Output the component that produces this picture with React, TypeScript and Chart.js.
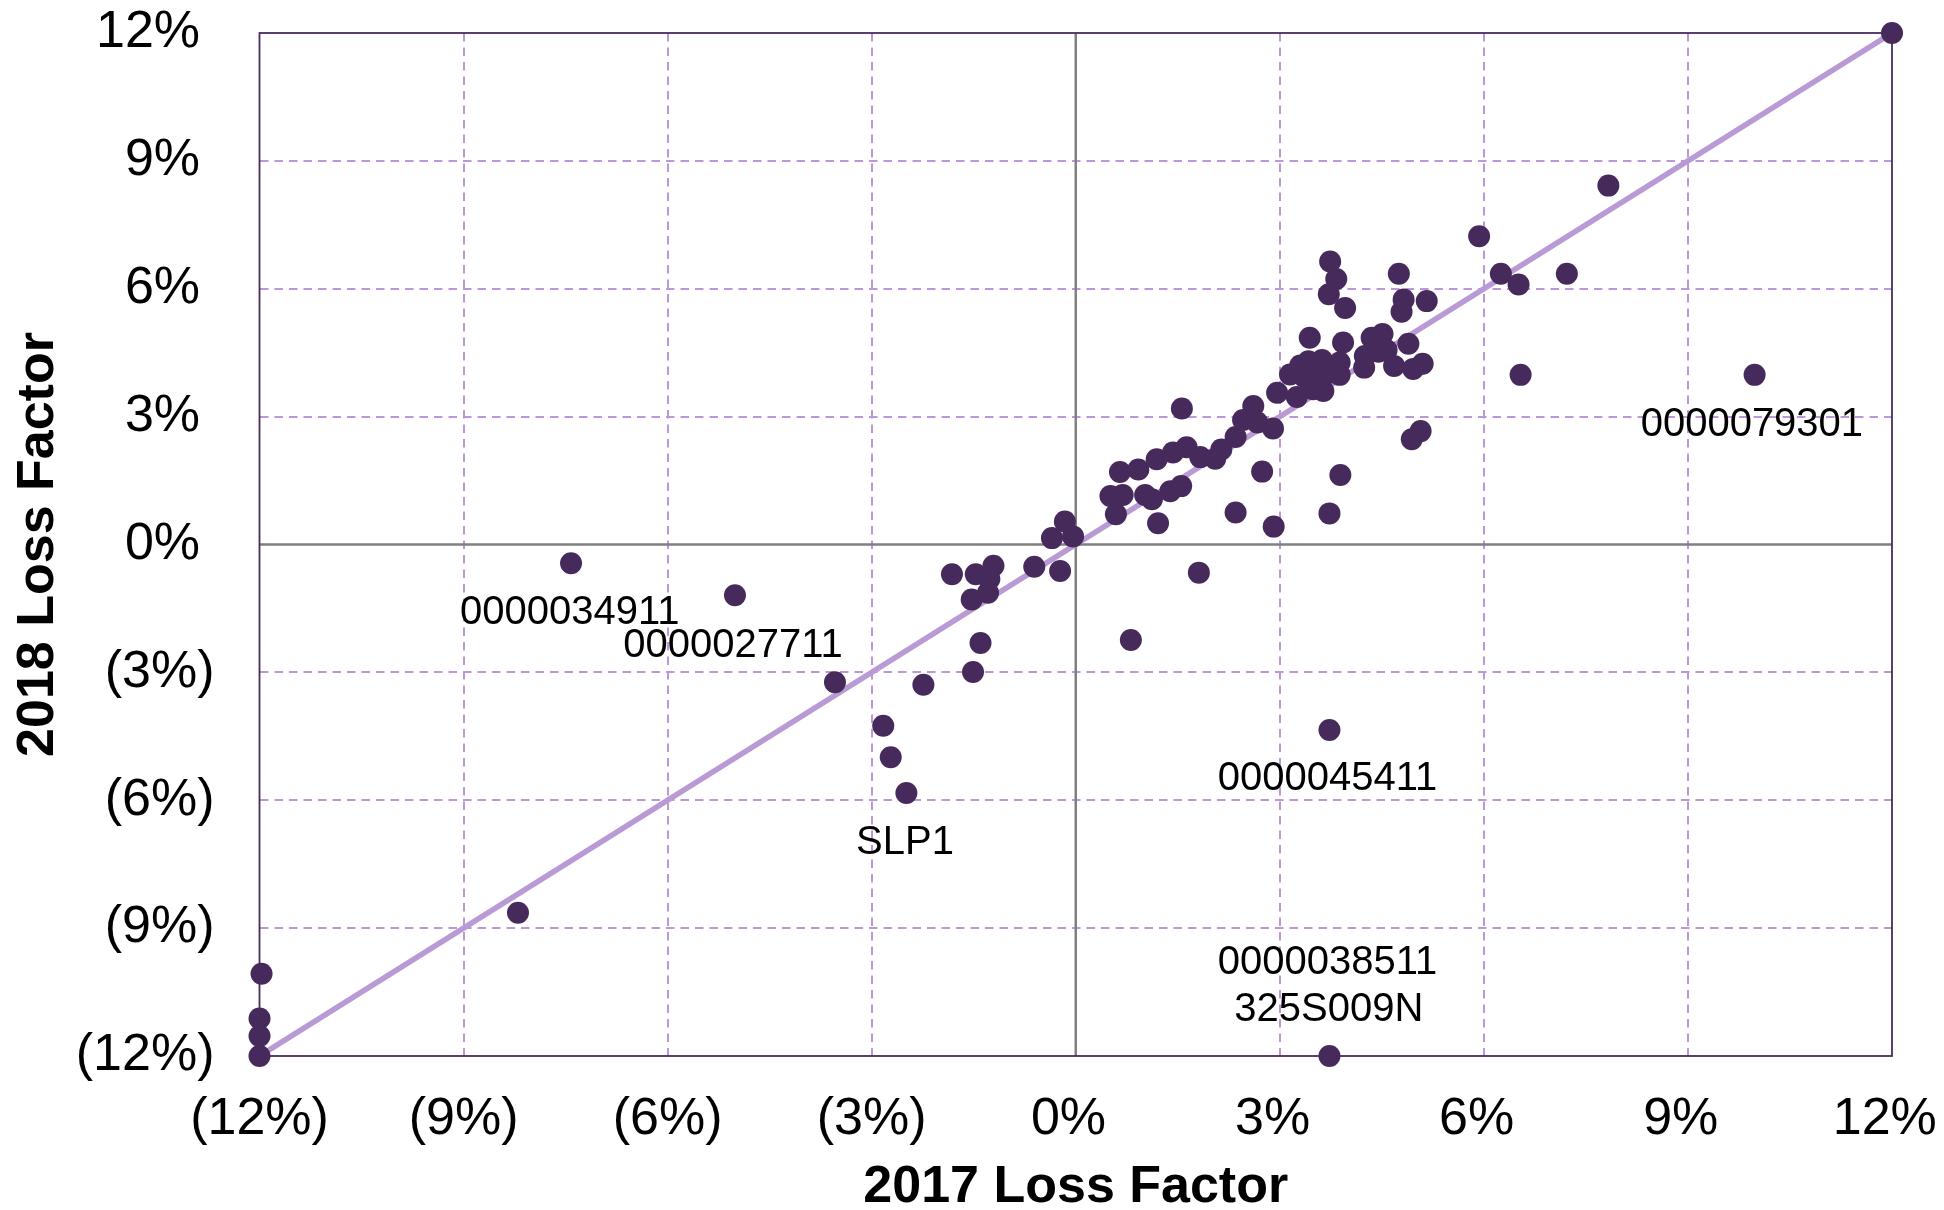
import React, { useEffect, useRef } from "react";
import { Chart, registerables } from "chart.js";

Chart.register(...registerables);

// 2017 loss factor (%) for each node
const lossFactor2017 = [
  -12.0, -12.0, -12.0, -11.97, -8.2, -7.42, -5.01, -3.54, -2.83, -2.72,
  -2.49, -2.24, -1.51, -1.4, -1.82, -1.47, -1.21, -1.27, -1.29, -1.53,
  -0.61, -0.23, -0.16, -0.35, -0.04, 0.59, 0.51, 0.69, 0.65, 0.92,
  0.81, 1.02, 1.12, 1.21, 1.39, 1.55, 1.19, 1.43, 1.63, 1.83,
  2.05, 2.14, 2.35, 1.56, 1.81, 2.35, 2.91, 2.74, 2.46, 2.61,
  2.67, 2.9, 2.96, 3.25, 3.15, 3.3, 3.42, 3.62, 3.88, 3.36,
  3.54, 3.7, 3.88, 3.49, 3.64, 3.8, 3.5, 3.44, 3.93, 3.74,
  3.83, 3.72, 3.96, 3.89, 3.73, 3.73, 3.73, 4.25, 4.24, 4.35,
  4.45, 4.51, 4.57, 4.68, 4.75, 4.82, 4.79, 4.89, 4.96, 5.1,
  5.16, 4.94, 5.07, 5.93, 6.25, 6.51, 7.22, 6.54, 7.83, 9.98,
  12.0,
];

// 2018 loss factor (%) for each node
const lossFactor2018 = [
  -12.0, -11.53, -11.12, -10.07, -8.64, -0.44, -1.19, -3.23, -4.25, -4.99,
  -5.83, -3.29, -2.99, -2.31, -0.7, -0.7, -0.5, -0.81, -1.13, -1.29,
  -0.52, -0.62, 0.54, 0.15, 0.19, 0.71, 1.14, 1.16, 1.7, 1.76,
  -2.24, 1.16, 1.06, 0.5, 1.25, 1.37, 2.0, 2.16, 2.28, 2.05,
  2.01, 2.23, 2.52, 3.19, -0.66, 0.75, 0.42, 1.71, 2.92, 3.25,
  2.86, 2.72, 3.56, 3.46, 3.99, 4.2, 4.3, 4.33, 4.27, 3.93,
  3.88, 4.02, 3.98, 3.64, 3.6, 4.12, 4.12, 4.85, 4.74, 6.64,
  6.23, 5.87, 5.55, 1.63, 0.73, -4.35, -12.0, 4.42, 4.15, 4.85,
  4.52, 4.94, 4.56, 4.19, 6.35, 5.75, 5.46, 4.71, 4.12, 4.24,
  5.71, 2.47, 2.66, 7.23, 6.35, 6.1, 6.35, 3.98, 8.42, 3.98,
  12.0,
];

// equality reference line
const diagonalX = [-12, 12];
const diagonalY = [-12, 12];

// axis ticks (%)
const tickValues = [-12, -9, -6, -3, 0, 3, 6, 9, 12];

// outlier annotations (text anchored in data units)
const annotationTexts = [
  "0000034911",
  "0000027711",
  "SLP1",
  "0000045411",
  "0000038511",
  "325S009N",
  "0000079301",
];
const annotationX = [-7.44, -5.04, -2.51, 3.7, 3.7, 3.72, 9.94];
const annotationY = [-1.6, -2.37, -7.0, -5.5, -9.82, -10.92, 2.8];

const FONT = '"Liberation Sans", Arial, Helvetica, sans-serif';
const DOT = "rgb(70,42,92)";
const GRID = "rgb(188,152,218)";
const DIAG = "rgb(186,154,212)";
const FRAME = "rgb(72,44,96)";
const ZERO = "rgb(128,128,128)";

const fmt = (v: number) => (v < 0 ? `(${Math.abs(v)}%)` : `${v}% `);

const framePlugin = {
  id: "frameAndZero",
  beforeDatasetsDraw(chart: any) {
    const { ctx, chartArea, scales } = chart;
    const x0 = scales.x.getPixelForValue(0);
    const y0 = scales.y.getPixelForValue(0);
    ctx.save();
    ctx.strokeStyle = ZERO;
    ctx.lineWidth = 2.5;
    ctx.beginPath();
    ctx.moveTo(x0, chartArea.top);
    ctx.lineTo(x0, chartArea.bottom);
    ctx.moveTo(chartArea.left, y0);
    ctx.lineTo(chartArea.right, y0);
    ctx.stroke();
    ctx.strokeStyle = FRAME;
    ctx.lineWidth = 1.8;
    ctx.strokeRect(
      chartArea.left,
      chartArea.top,
      chartArea.right - chartArea.left,
      chartArea.bottom - chartArea.top
    );
    ctx.restore();
  },
};

const annotationPlugin = {
  id: "annotations",
  afterDatasetsDraw(chart: any) {
    const { ctx, scales } = chart;
    ctx.save();
    ctx.fillStyle = "#000";
    ctx.font = `40px ${FONT}`;
    ctx.textAlign = "center";
    ctx.textBaseline = "middle";
    annotationTexts.forEach((t, i) => {
      ctx.fillText(
        t,
        scales.x.getPixelForValue(annotationX[i]),
        scales.y.getPixelForValue(annotationY[i])
      );
    });
    ctx.restore();
  },
};

export default function App() {
  const ref = useRef<HTMLCanvasElement | null>(null);

  useEffect(() => {
    document.body.style.margin = "0";
    if (!ref.current) return;
    const gridColor = (c: any) => {
      const v = c.tick ? c.tick.value : null;
      if (v === 0 || v === 12 || v === -12) return "rgba(0,0,0,0)";
      return GRID;
    };
    const setTicks = (scale: any) => {
      scale.ticks = tickValues.map((v) => ({ value: v }));
    };
    const chart = new Chart(ref.current, {
      type: "scatter",
      data: {
        datasets: [
          {
            type: "scatter",
            data: lossFactor2017.map((x, i) => ({ x, y: lossFactor2018[i] })),
            backgroundColor: DOT,
            borderWidth: 0,
            pointRadius: 11,
            pointHoverRadius: 11,
            clip: false,
            order: 1,
          } as any,
          {
            type: "line",
            data: diagonalX.map((x, i) => ({ x, y: diagonalY[i] })),
            borderColor: DIAG,
            borderWidth: 5.5,
            pointRadius: 0,
            fill: false,
            order: 2,
          } as any,
        ],
      },
      options: {
        animation: false,
        responsive: false,
        devicePixelRatio: 1,
        layout: { padding: { top: 33, right: 52, left: 0, bottom: 0 } },
        plugins: {
          legend: { display: false },
          tooltip: { enabled: false },
        },
        events: [],
        scales: {
          x: {
            type: "linear",
            min: -12,
            max: 12,
            afterBuildTicks: setTicks,
            afterFit: (s: any) => {
              s.height = 154;
              s.paddingLeft = 0;
              s.paddingRight = 0;
            },
            grid: { color: gridColor, lineWidth: 2, drawTicks: false },
            border: { display: false, dash: [8.5, 6] },
            ticks: {
              callback: (v: any) => fmt(Number(v)),
              color: "#000",
              font: { family: FONT, size: 52, lineHeight: 1.2 },
              padding: 32,
              maxRotation: 0,
              autoSkip: false,
            },
            title: {
              display: true,
              text: "2017 Loss Factor",
              color: "#000",
              font: { family: FONT, size: 52, weight: "bold", lineHeight: 0.8 },
              padding: { top: 0, bottom: 2 },
            },
          },
          y: {
            type: "linear",
            min: -12,
            max: 12,
            afterBuildTicks: setTicks,
            afterFit: (s: any) => {
              s.width = 259.5;
              s.paddingTop = 0;
              s.paddingBottom = 0;
            },
            grid: { color: gridColor, lineWidth: 2, drawTicks: false },
            border: { display: false, dash: [8.5, 6] },
            ticks: {
              callback: (v: any) => fmt(Number(v)),
              color: "#000",
              font: { family: FONT, size: 52, lineHeight: 1.2 },
              padding: 45,
              autoSkip: false,
            },
            title: {
              display: true,
              text: "2018 Loss Factor",
              color: "#000",
              font: { family: FONT, size: 52, weight: "bold", lineHeight: 0.8 },
              padding: { top: 18, bottom: 0 },
            },
          },
        },
      },
      plugins: [framePlugin, annotationPlugin],
    });
    return () => chart.destroy();
  }, []);

  return (
    <div style={{ width: 1944, height: 1210 }}>
      <canvas ref={ref} width={1944} height={1210} style={{ display: "block" }} />
    </div>
  );
}
